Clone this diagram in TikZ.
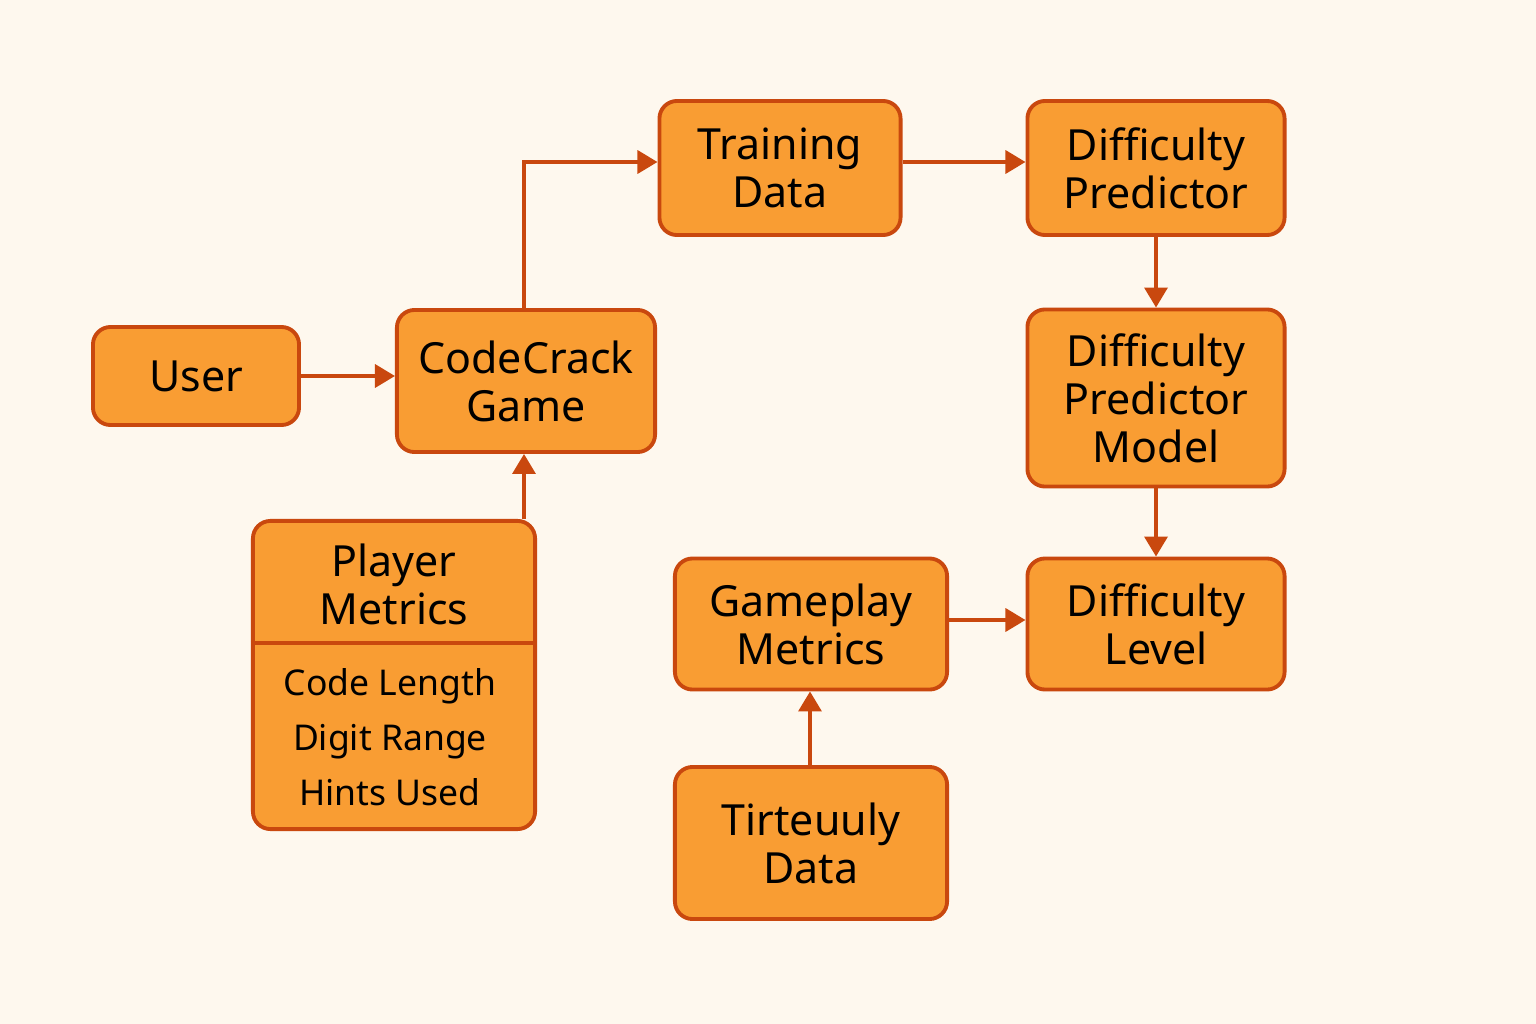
\documentclass[tikz,border=0pt]{standalone}
\usepackage{fontspec}
\setmainfont{Noto Sans}
\usetikzlibrary{arrows.meta}
\definecolor{bgcream}{HTML}{FEF8EE}
\definecolor{boxorange}{HTML}{F99D33}
\definecolor{edgerust}{HTML}{C9480E}
\begin{document}
\begin{tikzpicture}[
	x=0.01cm,
	y=-0.01cm,
	box/.style={draw=edgerust, fill=boxorange, line width=1.1pt,
		rounded corners=5pt, align=center, inner sep=0pt,
		font=\fontsize{12.2}{13.6}\selectfont},
	link/.style={draw=edgerust, line width=1pt,
		-{Triangle[length=2mm,width=2.3mm]}}] {

% background
\fill[bgcream] (0,0) rectangle (1536,1024);
\useasboundingbox (0,0) rectangle (1536,1024);

% left column
\node[box, minimum width=2.06cm, minimum height=0.98cm] (user)
    at (196,376) {User};
\node[box, minimum width=2.58cm, minimum height=1.42cm] (game)
    at (526,381) {CodeCrack\\Game};

% player metrics (header + list)
\node[box, minimum width=2.82cm, minimum height=3.08cm] (metrics)
    at (394,675) {};
\node[font=\fontsize{12.2}{13.6}\selectfont, align=center] (mhead)
    at (394,584) {Player\\Metrics};
\draw[edgerust, line width=0.9pt] (metrics.west |- 0,643)
    -- (metrics.east |- 0,643);
\node[font=\fontsize{10.1}{15.6}\selectfont, align=center] (mlist)
    at (390,737) {Code Length\\Digit Range\\Hints Used};

% top row
\node[box, minimum width=2.41cm, minimum height=1.34cm] (train)
    at (780,168) {Training\\Data};
\node[box, minimum width=2.57cm, minimum height=1.34cm] (pred)
    at (1156,168) {Difficulty\\Predictor};

% right column
\node[box, minimum width=2.57cm, minimum height=1.77cm] (model)
    at (1156,398) {Difficulty\\Predictor\\Model};
\node[box, minimum width=2.57cm, minimum height=1.31cm] (level)
    at (1156,624) {Difficulty\\Level};

% middle column
\node[box, minimum width=2.72cm, minimum height=1.31cm] (gameplay)
    at (811,624) {Gameplay\\Metrics};
\node[box, minimum width=2.72cm, minimum height=1.52cm] (raw)
    at (811,843) {Tirteuuly\\Data};

% links
\draw[link] (user.east |- 0,376) -- (game.west |- 0,376);
\draw[link] (game.north -| 524,0) |- (train.west |- 0,162);
\draw[link] (train.east |- 0,162) -- (pred.west |- 0,162);
\draw[link] (pred) -- (model);
\draw[link] (model) -- (level);
\draw[link] (gameplay.east |- 0,620) -- (level.west |- 0,620);
\draw[link] (raw.north -| 810,0) -- (gameplay.south -| 810,0);
\draw[link] (metrics.north -| 524,0) -- (game.south -| 524,0);
}\end{tikzpicture}
\end{document}
